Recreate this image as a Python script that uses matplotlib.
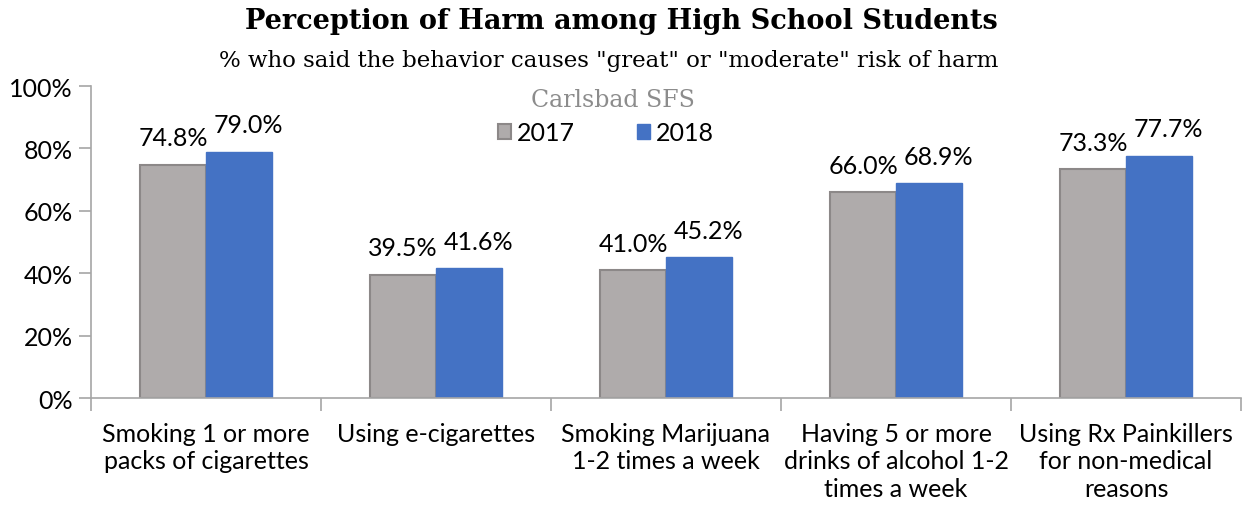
import numpy as np
import matplotlib
matplotlib.use("Agg")
from matplotlib import pyplot as plt

# survey results, % saying "great" or "moderate" risk
categories = ["Smoking 1 or more\npacks of cigarettes",
              "Using e-cigarettes",
              "Smoking Marijuana\n1-2 times a week",
              "Having 5 or more\ndrinks of alcohol 1-2\ntimes a week",
              "Using Rx Painkillers\nfor non-medical\nreasons"]
years = ["2017", "2018"]
vals_2017 = [74.8, 39.5, 41.0, 66.0, 73.3]
vals_2018 = [79.0, 41.6, 45.2, 68.9, 77.7]
yticks = [0, 20, 40, 60, 80, 100]

plt.rcParams['font.family'] = ['Lato', 'DejaVu Sans']
fs = 18

fig = plt.figure(figsize=(12.43, 5.10), dpi=100)
ax = fig.add_axes([0.0732, 0.2176, 0.9252, 0.6118])

x = np.arange(len(categories))
w = 1 / 3.5
gray = "#AFABAB"
blue = "#4472C4"

b1 = ax.bar(x - w / 2, vals_2017, w, color=gray, edgecolor="#8c8888", linewidth=1.5, label=years[0])
b2 = ax.bar(x + w / 2, vals_2018, w, color=blue, edgecolor=blue, linewidth=1.0, label=years[1])

# 2018 labels nudged right so they don't run into the 2017 ones
for bars, vals, dx in [(b1, vals_2017, 0), (b2, vals_2018, 7)]:
    for rect, v in zip(bars, vals):
        ax.annotate("%.1f%%" % v, (rect.get_x() + rect.get_width() / 2, v),
                    xytext=(dx, 11), textcoords="offset points",
                    ha="center", va="bottom", fontsize=fs)

ax.set_xlim(-0.5, len(categories) - 0.5)
ax.set_ylim(0, 100)
ax.set_yticks(yticks)
ax.set_yticklabels(["%d%%" % t for t in yticks], fontsize=fs)

# category separators as the x tick marks, names as minor labels
ax.set_xticks(np.arange(len(categories) + 1) - 0.5)
ax.set_xticklabels([])
ax.set_xticks(x, minor=True)
ax.set_xticklabels(categories, minor=True, fontsize=fs, linespacing=1.25, va="top")
ax.tick_params(axis="x", which="minor", length=0, pad=17)
ax.tick_params(axis="x", which="major", length=9, color="#a6a6a6", width=1.2)
ax.tick_params(axis="y", length=9, color="#a6a6a6", width=1.2, pad=4)

for s in ["top", "right"]:
    ax.spines[s].set_visible(False)
for s in ["left", "bottom"]:
    ax.spines[s].set_color("#a6a6a6")
    ax.spines[s].set_linewidth(1.2)

fig.text(0.5, 0.957, "Perception of Harm among High School Students",
         ha="center", va="center", fontsize=19.5, fontweight="bold", family="DejaVu Serif")
fig.text(0.49, 0.88, '% who said the behavior causes "great" or "moderate" risk of harm',
         ha="center", va="center", fontsize=16.5, family="DejaVu Serif")
fig.text(0.493, 0.803, "Carlsbad SFS", ha="center", va="center", fontsize=17,
         color="#8c8c8c", family="DejaVu Serif")

ax.legend(loc="center", bbox_to_anchor=(0.448, 0.85), ncol=2, frameon=False,
          fontsize=fs, handlelength=0.5, handleheight=0.5, handletextpad=0.25,
          columnspacing=2.5)

fig.savefig("out.png", dpi=100)
